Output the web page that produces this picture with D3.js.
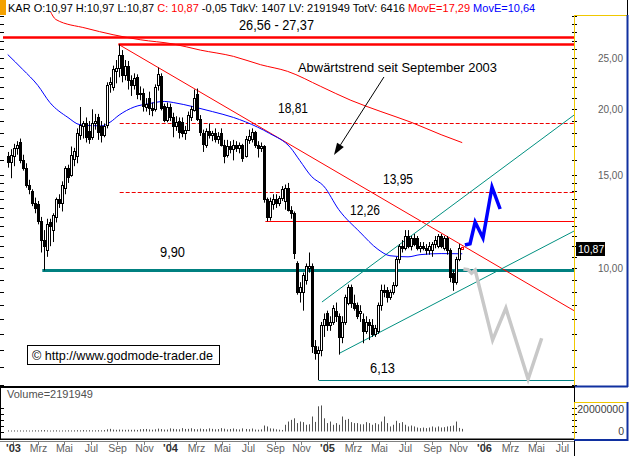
<!DOCTYPE html>
<html><head><meta charset="utf-8">
<script src="https://cdn.jsdelivr.net/npm/d3@7"></script>
<style>body{margin:0;background:#fff}svg{display:block}text{font-family:"Liberation Sans",Arial,sans-serif}</style>
</head><body><svg id="c" width="629" height="456"></svg>
<script>
// ---------- DATA ----------
const firstWeek = "2002-12-20";            // weekly candles (Friday)
// [open, high, low, close]
const ohlc = [
[16.3,16.6,15.5,15.9],[15.9,16.8,14.8,16.4],[16.3,17.2,15.6,16.9],[16.9,17.4,16.4,17.1],[17.3,17.6,15.8,16.0],
[16.0,16.4,15.3,15.5],[15.5,15.8,14.2,14.4],[14.4,14.7,13.8,14.1],[14.0,14.1,13.1,13.3],[13.3,13.6,12.7,13.0],
[13.2,13.4,12.1,12.3],[12.3,12.5,10.7,11.3],[11.3,11.8,9.9,11.0],[10.8,12.4,10.5,12.1],[12.2,12.4,11.0,12.0],
[11.8,12.7,11.2,12.6],[12.5,13.6,12.2,13.5],[13.5,13.8,13.0,13.3],[13.3,14.6,12.8,14.4],[14.2,15.6,13.8,15.5],
[15.5,15.7,14.5,14.9],[15.0,17.0,14.9,16.4],[16.1,16.9,15.6,16.7],[16.3,18.4,15.8,18.0],[17.9,20.2,17.5,18.7],
[18.6,19.0,17.6,18.8],[18.8,19.3,17.3,17.7],[18.2,19.0,17.2,17.6],[17.7,20.0,17.5,18.8],[18.8,19.6,18.3,19.0],
[19.3,19.6,17.5,18.1],[18.6,19.0,17.3,17.9],[17.9,18.8,17.7,18.6],[18.7,22.5,18.4,22.2],[22.3,23.0,21.5,22.5],
[22.0,24.2,21.7,23.8],[23.6,24.8,22.4,24.0],[24.0,26.56,23.0,25.3],
[25.3,25.9,22.5,23.2],[23.2,24.8,22.7,24.2],[24.2,24.7,21.8,22.7],[22.7,23.2,21.2,22.2],[22.2,23.4,21.8,22.9],
[23.0,23.3,20.9,21.4],[21.4,22.1,20.8,21.5],[21.5,21.9,19.8,20.3],[20.2,21.0,19.8,20.5],[21.0,21.6,19.5,20.1],
[20.1,20.6,19.4,19.9],[20.0,22.3,19.8,22.0],[22.2,24.0,21.7,23.3],[23.1,23.4,19.9,20.1],[20.3,20.5,18.9,19.1],
[19.1,20.6,18.9,20.2],[20.2,20.5,19.0,19.3],[19.3,19.7,17.7,18.6],[18.6,19.4,18.2,18.9],[19.0,19.3,17.6,18.1],
[18.9,19.3,17.7,18.0],[18.0,18.6,17.5,18.3],[18.3,19.8,18.2,19.5],[19.3,20.3,19.0,20.0],[19.9,21.8,19.8,21.0],
[21.4,21.9,19.0,19.2],[19.2,19.5,17.8,18.1],[18.0,18.3,16.6,17.2],[17.1,18.4,16.9,18.2],[18.2,18.8,17.6,17.9],
[17.9,18.2,17.4,18.0],[18.0,18.4,17.3,17.6],[17.6,18.1,17.2,17.8],[18.0,18.4,17.0,17.1],[17.1,17.5,15.8,16.3],
[16.4,17.5,16.2,17.0],[17.0,17.4,16.5,16.8],[16.8,17.5,16.0,17.1],
[17.1,17.4,16.6,16.9],[16.9,17.3,16.5,17.1],[17.1,17.2,15.9,16.2],[16.3,17.8,16.2,17.6],[17.5,18.3,17.2,17.8],
[17.6,18.4,17.3,18.1],[18.1,18.2,16.9,17.1],[17.1,17.4,16.2,16.9],[16.9,17.3,16.6,17.0],[17.0,17.1,13.3,13.5],
[13.5,13.6,12.26,12.5],[12.5,13.6,12.3,13.4],[13.2,13.8,12.9,13.5],[13.5,13.8,13.0,13.3],[13.3,13.7,13.1,13.6],
[13.6,14.3,13.4,14.1],[13.4,14.4,12.9,14.2],[14.2,14.5,12.8,12.9],[12.9,13.1,12.4,12.7],[12.7,12.8,10.4,10.7],
[10.2,10.3,8.9,9.0],[9.0,9.4,8.6,9.2],[9.0,9.8,8.3,9.7],[9.5,10.2,9.3,10.1],[10.0,10.7,9.8,10.1],
[10.1,10.2,6.9,7.1],[7.1,7.3,6.7,6.9],[6.9,7.1,6.13,7.0],[7.0,7.9,6.8,7.8],[7.8,8.2,7.4,8.0],
[8.2,8.3,7.6,7.8],[7.8,8.1,7.6,7.9],[7.9,8.5,7.8,8.4],[8.3,8.6,7.9,8.1],[8.1,8.2,6.85,7.4],
[7.4,8.1,7.2,7.9],[7.9,8.9,7.8,8.8],[8.6,9.3,8.5,9.2],
[9.2,9.3,8.4,8.6],[8.6,8.9,8.3,8.4],[8.5,8.6,8.0,8.1],[8.2,8.5,7.9,8.3],[8.0,8.2,7.2,7.6],
[7.6,8.1,7.5,7.9],[7.9,8.0,7.3,7.8],[7.8,8.0,7.4,7.5],[7.5,7.8,7.4,7.7],[7.6,8.6,7.5,8.5],
[8.5,9.3,8.3,9.1],[9.1,9.3,8.8,9.0],[9.1,9.2,8.6,8.8],[8.8,9.1,8.7,9.0],[9.0,9.4,8.9,9.3],
[9.3,10.5,9.2,10.4],[10.4,11.1,10.2,11.0],[11.0,11.3,10.7,10.9],[10.9,11.8,10.8,11.5],[11.5,11.8,10.9,11.0],
[11.0,11.5,10.8,11.4],[11.4,11.6,11.0,11.1],[11.4,11.5,10.8,10.9],[10.9,11.2,10.7,11.0],[11.0,11.2,10.8,10.9],
[10.9,11.1,10.6,10.8],[10.8,11.2,10.6,11.0],[10.8,11.2,10.5,11.1],[11.1,11.5,10.9,11.3],[11.0,11.6,10.9,11.5],
[11.5,11.6,10.9,11.0],[10.9,11.5,10.8,11.4],[11.4,11.5,10.6,10.8],[10.8,10.9,9.4,9.6],[9.8,9.9,9.05,9.4],
[9.4,10.5,9.3,10.4],[10.4,11.1,10.3,10.9],[10.97,10.97,10.87,10.87]
];
// weekly volume, millions
const volumeM = [
0.9,0.8,0.9,0.8,0.9,0.8,0.9,0.8,0.9,1.0,0.9,1.1,1.2,0.9,0.8,0.9,1.0,0.8,0.9,0.9,
1.0,0.9,1.0,1.1,1.0,1.2,1.0,1.1,1.0,1.0,1.1,1.0,1.2,1.8,2.2,1.6,1.4,1.6,1.5,1.4,
1.5,1.4,1.5,1.3,1.9,2.0,2.1,1.7,1.5,1.8,2.4,2.0,1.6,1.6,2.6,2.2,1.9,1.8,2.8,2.1,
2.2,2.7,2.0,1.8,2.4,2.0,1.9,2.6,2.2,1.8,2.0,2.8,2.3,1.7,2.1,2.5,1.9,1.7,2.6,2.1,
1.9,2.5,1.6,1.5,1.8,5.0,4.2,2.6,2.4,1.8,1.5,1.3,5.6,8.3,9.7,11.0,7.0,8.3,7.8,5.6,
6.0,12.5,8.0,21.0,21.7,11.0,7.0,8.3,5.6,7.0,5.6,12.5,9.7,10.5,7.8,7.0,7.0,6.0,6.0,7.8,
7.0,5.6,7.0,6.0,8.3,12.5,7.0,4.2,5.6,8.9,7.0,7.8,5.6,4.2,5.0,4.2,3.3,2.8,3.3,2.8,
3.3,4.2,3.3,4.2,3.3,3.6,4.2,4.5,5.0,8.3,3.0,2.19
];
// moving averages, read at week indices
const maRedWeeks  = [14,16,26,35,44,55,64,75,84,93,104,114,124,134,144,151];
const maRedValues = [30.8,29.6,28.5,27.7,27.1,26.6,25.9,25.2,24.3,23.6,22.1,20.8,19.8,18.9,17.9,17.29];
const maBlueWeeks  = [0,5,10,14,20,24,31,34,37,42,47,52,55,62,68,75,83,87,94,97,101,105,110,117,123,127,133,137,144,151];
const maBlueValues = [25.4,23.8,22.2,20.6,19.3,18.7,18.6,18.9,19.5,20.2,20.5,20.7,20.6,20.2,19.8,19.3,18.5,18.0,16.9,16.0,14.9,14.3,12.9,11.7,10.85,10.55,10.5,10.6,10.65,10.64];
// horizontal levels
const levelValues = [27.37, 26.56, 18.81, 13.95, 12.26, 9.90, 6.13];
const levelFromWeek = [null, 36.8, 37.2, 37.2, 85.6, 11.5, 103.3];
const levelLabels = ["26,56 - 27,37", "18,81", "13,95", "12,26", "9,90", "6,13"];
// trend lines [week, value] pairs (end null = right edge)
const downTrend = [[36.8, 26.56], [null, 8.3]];
const channelUpper = [[104.4, 8.62], [null, 19.5]];
const channelLower = [[110.4, 6.90], [null, 11.75]];
// forecast scenarios
const bullWeeks = [151.9,153.6,155.3,157.9,160.9,163.6];
const bullValues = [11.06,11.12,12.22,11.40,14.24,12.94];
const bearWeeks = [151.4,152.9,154.1,155.3,161.1,165.5,172.9,177.4];
const bearValues = [9.96,9.93,9.78,9.91,7.30,8.39,6.16,7.36];
const arrowFrom = [125.0, 23.03], arrowTo = [108.4, 16.38];
// axes
const priceTickValues = [10, 15, 20, 25];
const priceTickLabels = ["10,00", "15,00", "20,00", "25,00"];
const monthLabels = ["'03","Mrz","Mai","Jul","Sep","Nov","'04","Mrz","Mai","Jul","Sep","Nov","'05","Mrz","Mai","Jul","Sep","Nov","'06","Mrz","Mai","Jul"];
const volTickLabels = ["20000000", "0"];
const header = [
 ["KAR O:10,97 H:10,97 L:10,87 ", "#000"], ["C: 10,87", "#f00"],
 [" -0,05 TdkV: 1407 LV: 2191949 TotV: 6416 ", "#000"], ["MovE=17,29", "#f00"], [" MovE=10,64", "#00f"]
];

// ---------- CHART ----------
const svg = d3.select("#c");
const parse = d3.timeParse("%Y-%m-%d");
const w0 = parse(firstWeek);
const wd = w => new Date(w0.getTime() + w * 7 * 864e5);
const L = 3, R = 574, T = 15, B = 386;
const x = d3.scaleTime().domain([parse("2002-12-09"), parse("2006-07-29")]).range([L, R]);
const y = d3.scaleLog().domain([5.973, 30.19]).range([B, T]);
const yv = d3.scaleLinear().domain([0, 20]).range([431.5, 407.5]);
const wx = w => w === null ? R : x(wd(w));

svg.append("rect").attr("width", 629).attr("height", 456).attr("fill", "#fff");
const defs = svg.append("defs");
defs.append("clipPath").attr("id", "clip").append("rect").attr("x", L).attr("y", 12).attr("width", R - L).attr("height", B - 12);

const plot = svg.append("g").attr("clip-path", "url(#clip)");

// levels
const lvStyle = [
 {c:"#f00", w:2.5, d:null}, {c:"#f00", w:2.5, d:null}, {c:"#e00", w:1, d:"4,2"}, {c:"#e00", w:1, d:"4,2"},
 {c:"#f00", w:1, d:null}, {c:"#008080", w:3, d:null}, {c:"#008080", w:1, d:null}
];
levelValues.forEach((v, i) => {
  const s = lvStyle[i];
  plot.append("line").attr("x1", levelFromWeek[i] === null ? L : wx(levelFromWeek[i])).attr("x2", R)
    .attr("y1", Math.round(y(v)) + 0.5).attr("y2", Math.round(y(v)) + 0.5)
    .attr("stroke", s.c).attr("stroke-width", s.w).attr("stroke-dasharray", s.d);
});

// trend lines
function seg(p, col, wdt) {
  plot.append("line").attr("x1", wx(p[0][0])).attr("y1", y(p[0][1])).attr("x2", wx(p[1][0])).attr("y2", y(p[1][1]))
    .attr("stroke", col).attr("stroke-width", wdt);
}
seg(downTrend, "#f00", 1);
seg(channelUpper, "#009080", 1);
seg(channelLower, "#009080", 1);

// moving averages
const ln = d3.line().x(d => x(wd(d[0]))).y(d => y(d[1])).curve(d3.curveMonotoneX);
plot.append("path").attr("d", ln(maRedWeeks.map((w, i) => [w, maRedValues[i]]))).attr("fill", "none").attr("stroke", "#f00").attr("stroke-width", 1);
plot.append("path").attr("d", ln(maBlueWeeks.map((w, i) => [w, maBlueValues[i]]))).attr("fill", "none").attr("stroke", "#00f").attr("stroke-width", 1);

// candles
const cg = plot.append("g");
ohlc.forEach((d, i) => {
  const cx = Math.round(x(wd(i)));
  const [o, h, l, c] = d;
  const last = i === ohlc.length - 1;
  const col = last ? "#f00" : "#000";
  cg.append("line").attr("x1", cx + 0.5).attr("x2", cx + 0.5).attr("y1", y(h)).attr("y2", y(l)).attr("stroke", col);
  const top = Math.round(y(Math.max(o, c))), bot = Math.round(y(Math.min(o, c)));
  cg.append("rect").attr("x", cx - 0.5).attr("y", top + 0.5).attr("width", 2).attr("height", Math.max(bot - top, 1))
    .attr("fill", (c >= o || last) ? "#fff" : "#000").attr("stroke", col);
});

// forecast paths
const lin = d3.line().x(d => x(wd(d[0]))).y(d => y(d[1]));
plot.append("path").attr("d", lin(bearWeeks.map((w, i) => [w, bearValues[i]]))).attr("fill", "none").attr("stroke", "#c8c8c8").attr("stroke-width", 3.5).attr("stroke-linejoin", "miter");
plot.append("path").attr("d", lin(bullWeeks.map((w, i) => [w, bullValues[i]]))).attr("fill", "none").attr("stroke", "#0000ff").attr("stroke-width", 3.5).attr("stroke-linejoin", "miter");

// arrow
{
  const x1 = wx(arrowFrom[0]), y1 = y(arrowFrom[1]), x2 = wx(arrowTo[0]), y2 = y(arrowTo[1]);
  const a = Math.atan2(y2 - y1, x2 - x1), len = 12, hw = 4;
  const bx = x2 - len * Math.cos(a), by = y2 - len * Math.sin(a);
  plot.append("line").attr("x1", x1).attr("y1", y1).attr("x2", bx).attr("y2", by).attr("stroke", "#000");
  plot.append("path").attr("d", `M${x2},${y2}L${bx + hw * Math.sin(a)},${by - hw * Math.cos(a)}L${bx - hw * Math.sin(a)},${by + hw * Math.cos(a)}Z`).attr("fill", "#000");
}

// labels
const lbl = [
 {t: levelLabels[0], x: 239, y: 30, w: 75}, {t: levelLabels[1], x: 278, y: 113, w: 30},
 {t: levelLabels[2], x: 383, y: 184, w: 30}, {t: levelLabels[3], x: 350, y: 215, w: 30},
 {t: levelLabels[4], x: 160, y: 257, w: 25}, {t: levelLabels[5], x: 370, y: 373, w: 25}
];
lbl.forEach(d => svg.append("text").attr("x", d.x).attr("y", d.y).attr("font-size", 14).attr("textLength", d.w).attr("lengthAdjust", "spacingAndGlyphs").attr("fill", "#000").text(d.t));
svg.append("text").attr("x", 298).attr("y", 72).attr("font-size", 13.5).attr("textLength", 199).attr("lengthAdjust", "spacingAndGlyphs").text("Abwärtstrend seit September 2003");

// copyright box
svg.append("rect").attr("x", 27.5).attr("y", 345.5).attr("width", 192).attr("height", 19).attr("fill", "#fff").attr("stroke", "#000");
svg.append("text").attr("x", 32).attr("y", 360).attr("font-size", 13.5).attr("textLength", 181).attr("lengthAdjust", "spacingAndGlyphs").text("© http://www.godmode-trader.de");

// price ticks
const minor = d3.range(6, 15, 0.5).concat(d3.range(15, 31, 1));
minor.forEach(v => {
  const yy = Math.round(y(v)) + 0.5;
  if (yy < T || yy > B) return;
  svg.append("line").attr("x1", 0).attr("x2", 4).attr("y1", yy).attr("y2", yy).attr("stroke", "#000");
  svg.append("line").attr("x1", 572).attr("x2", 577).attr("y1", yy).attr("y2", yy).attr("stroke", "#000");
});
// right axis box
svg.append("line").attr("x1", 574.5).attr("x2", 574.5).attr("y1", T).attr("y2", B).attr("stroke", "#f0c800");
svg.append("line").attr("x1", 574).attr("x2", 627).attr("y1", T + 0.5).attr("y2", T + 0.5).attr("stroke", "#f0c800");
svg.append("line").attr("x1", 627.5).attr("x2", 627.5).attr("y1", T).attr("y2", B + 1).attr("stroke", "#1030a0").attr("stroke-width", 2);
svg.append("line").attr("x1", 574).attr("x2", 628).attr("y1", B + 0.5).attr("y2", B + 0.5).attr("stroke", "#1030a0").attr("stroke-width", 2);
priceTickValues.forEach((v, i) => svg.append("text").attr("x", 623).attr("y", y(v) + 3.5).attr("text-anchor", "end").attr("font-size", 10).attr("fill", "#606060").text(priceTickLabels[i]));
// last price box
svg.append("rect").attr("x", 576).attr("y", Math.round(y(10.87)) - 7).attr("width", 29).attr("height", 14).attr("fill", "#000");
svg.append("text").attr("x", 578).attr("y", y(10.87) + 4).attr("font-size", 10.5).attr("fill", "#fff").text("10,87");

// panel separators
svg.append("rect").attr("x", 0).attr("y", 386).attr("width", 574).attr("height", 2).attr("fill", "#000");
svg.append("rect").attr("x", 0).attr("y", 438.5).attr("width", 574).attr("height", 1.5).attr("fill", "#000");
svg.append("line").attr("x1", 0.5).attr("x2", 0.5).attr("y1", 386).attr("y2", 440).attr("stroke", "#000");
svg.append("line").attr("x1", 574.5).attr("x2", 574.5).attr("y1", 386).attr("y2", 402).attr("stroke", "#000");
svg.append("line").attr("x1", 574.5).attr("x2", 574.5).attr("y1", 440).attr("y2", 456).attr("stroke", "#000");

// volume
svg.append("text").attr("x", 7).attr("y", 398).attr("font-size", 11).attr("fill", "#505050").text("Volume=2191949");
const vg = svg.append("g");
volumeM.forEach((v, i) => {
  const cx = Math.round(x(wd(i)));
  vg.append("line").attr("x1", cx + 0.5).attr("x2", cx + 0.5).attr("y1", yv(0)).attr("y2", yv(v)).attr("stroke", "#505050");
});
[0, 5, 10, 15, 20].forEach(v => {
  const yy = Math.round(yv(v)) + 0.5;
  svg.append("line").attr("x1", 0).attr("x2", 4).attr("y1", yy).attr("y2", yy).attr("stroke", "#000");
  svg.append("line").attr("x1", 572).attr("x2", 577).attr("y1", yy).attr("y2", yy).attr("stroke", "#000");
});
svg.append("line").attr("x1", 574.5).attr("x2", 574.5).attr("y1", 402).attr("y2", 440).attr("stroke", "#f0c800");
svg.append("line").attr("x1", 574).attr("x2", 627).attr("y1", 402.5).attr("y2", 402.5).attr("stroke", "#f0c800");
svg.append("line").attr("x1", 627.5).attr("x2", 627.5).attr("y1", 402).attr("y2", 441).attr("stroke", "#1030a0").attr("stroke-width", 2);
svg.append("line").attr("x1", 574).attr("x2", 628).attr("y1", 440).attr("y2", 440).attr("stroke", "#1030a0").attr("stroke-width", 2);
svg.append("text").attr("x", 624).attr("y", 413).attr("text-anchor", "end").attr("font-size", 10.5).attr("fill", "#404040").text(volTickLabels[0]);
svg.append("text").attr("x", 624).attr("y", 435).attr("text-anchor", "end").attr("font-size", 10.5).attr("fill", "#404040").text(volTickLabels[1]);

// time axis
svg.append("line").attr("x1", 0).attr("x2", 574).attr("y1", 441.5).attr("y2", 441.5).attr("stroke", "#808080");
const months = d3.timeMonth.every(2).range(parse("2003-01-01"), parse("2006-07-02"));
months.forEach((m, i) => {
  const xx = Math.round(x(m)) + 0.5;
  svg.append("line").attr("x1", xx).attr("x2", xx).attr("y1", 442).attr("y2", 445).attr("stroke", "#808080");
  const yr = monthLabels[i].startsWith("'");
  svg.append("text").attr("x", xx).attr("y", 452).attr("text-anchor", "middle").attr("font-size", yr ? 11 : 10.5)
    .attr("font-weight", yr ? "bold" : "normal").attr("fill", yr ? "#303030" : "#606060").text(monthLabels[i]);
});

// header
svg.append("rect").attr("x", 0).attr("y", 0).attr("width", 6).attr("height", 15).attr("fill", "#f4a100");
svg.append("line").attr("x1", 627.5).attr("x2", 627.5).attr("y1", 0).attr("y2", T).attr("stroke", "#000");
const ht = svg.append("text").attr("x", 8).attr("y", 12).attr("font-size", 11);
header.forEach(h => ht.append("tspan").attr("fill", h[1]).text(h[0]));
</script></body></html>
